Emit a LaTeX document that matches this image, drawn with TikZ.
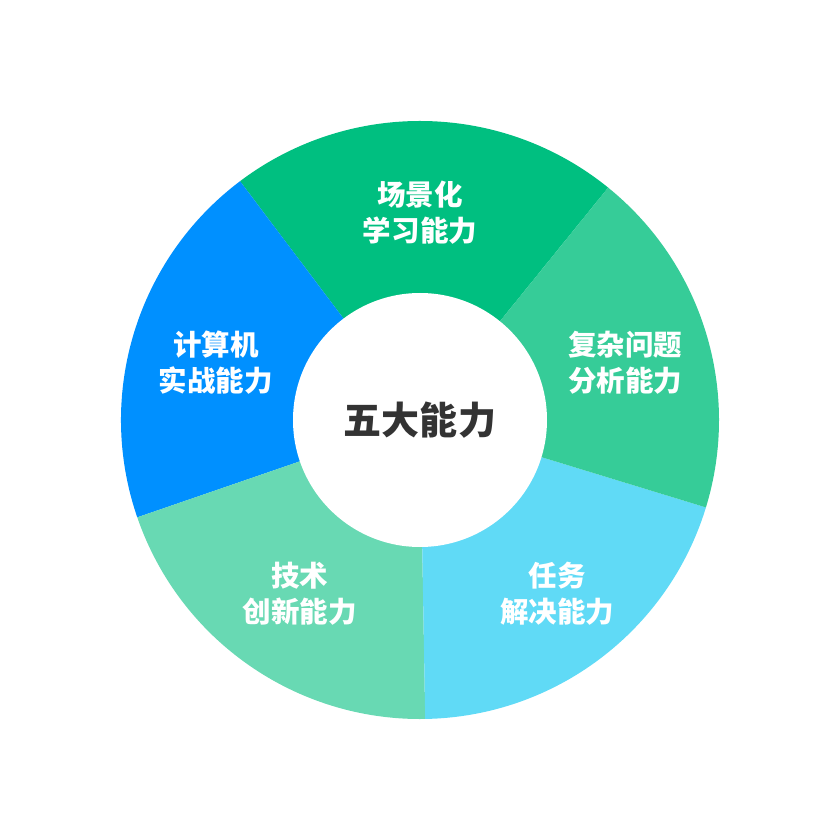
\documentclass[tikz,border=0pt]{standalone}
\usepackage{fontspec}
\setmainfont{Noto Sans CJK SC}
\definecolor{cTop}{HTML}{00BF80}
\definecolor{cRT}{HTML}{36CC98}
\definecolor{cRB}{HTML}{60DAF6}
\definecolor{cLB}{HTML}{68D9B3}
\definecolor{cL}{HTML}{0090FF}
\definecolor{cText}{HTML}{333333}
\tikzset{
  lbl/.style={text=white, font=\fontsize{28.5}{36}\selectfont\bfseries, align=center, inner sep=0pt},
  hub/.style={circle, fill=white, minimum size=254pt, inner sep=0pt, text=cText, font=\fontsize{38}{44}\selectfont\bfseries}
}
\begin{document}
\begin{tikzpicture}[x=1pt,y=1pt]
\useasboundingbox (-420,-420) rectangle (420,420);
\def\R{299}
\fill[cTop] (0,0) -- (51:\R) arc[start angle=51, end angle=127, radius=\R] -- cycle;
\fill[cL]   (0,0) -- (127:\R) arc[start angle=127, end angle=199, radius=\R] -- cycle;
\fill[cLB]  (0,0) -- (199:\R) arc[start angle=199, end angle=271, radius=\R] -- cycle;
\fill[cRB]  (0,0) -- (-89:\R) arc[start angle=-89, end angle=-17, radius=\R] -- cycle;
\fill[cRT]  (0,0) -- (-17:\R) arc[start angle=-17, end angle=51, radius=\R] -- cycle;
\node[hub] (hub) at (0,0) {五大能力};
\node[lbl] (top) at (0,207) {场景化\\学习能力};
\node[lbl] (rt) at (205,57) {复杂问题\\分析能力};
\node[lbl] (rb) at (137,-174) {任务\\解决能力};
\node[lbl] (lb) at (-120,-174) {技术\\创新能力};
\node[lbl] (lft) at (-204,57) {计算机\\实战能力};
\end{tikzpicture}
\end{document}
